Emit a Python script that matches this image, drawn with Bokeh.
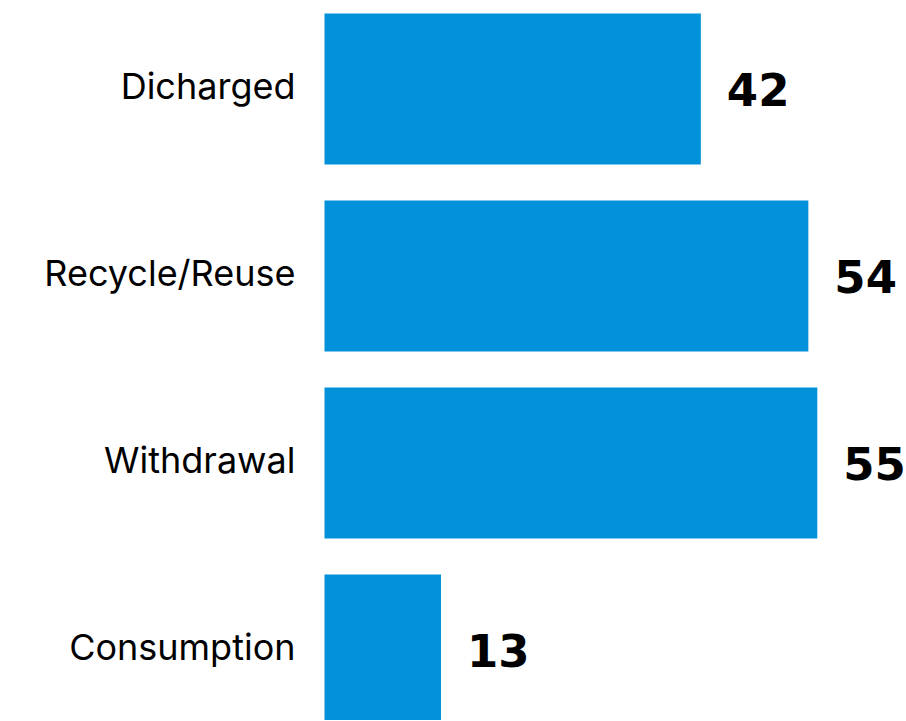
from bokeh.plotting import figure
from bokeh.models import Range1d, ColumnDataSource
from bokeh.core.properties import value
from bokeh.embed import file_html
from bokeh.resources import INLINE

# Data
categories = ["Dicharged", "Recycle/Reuse", "Withdrawal", "Consumption"]
values = [42, 54, 55, 13]
value_labels = ["42", "54", "55", "13"]

BAR_COLOR = "#0091da"
PX_PER_UNIT_X = 8.96
PX_PER_ROW = 187.0

W, H = 905, 720
left_px = 324   # distance from frame left to bar baseline (value 0)
top_px = 88.5   # distance from frame top to first row centre

positions = list(range(len(categories)))

src = ColumnDataSource(dict(
    cat=categories,
    y=positions,
    val=values,
    lab=value_labels,
    zero=[0] * len(values),
))

p = figure(
    width=W, height=H,
    output_backend="svg",
    toolbar_location=None,
    x_range=Range1d(-left_px / PX_PER_UNIT_X, (W - left_px) / PX_PER_UNIT_X),
    y_range=Range1d((H - top_px) / PX_PER_ROW, -top_px / PX_PER_ROW),
    min_border=0,
)
p.axis.visible = False
p.grid.visible = False
p.outline_line_color = None
p.background_fill_color = "white"
p.border_fill_color = "white"

p.hbar(y="y", left="zero", right="val", height=151 / PX_PER_ROW,
       color=BAR_COLOR, line_color=None, source=src)

# Category labels
p.text(x="zero", y="y", text="cat", source=src,
       x_offset=-29, y_offset=-3,
       text_align="right", text_baseline="alphabetic",
       text_font=value("Inter"), text_font_size="36px",
       text_color="black")

# Value labels
p.text(x="val", y="y", text="lab", source=src,
       x_offset=26, y_offset=0,
       text_align="left", text_baseline="alphabetic",
       text_font=value("DejaVu Sans"), text_font_style="bold",
       text_font_size="45px", text_color="black")

open("out.html", "w").write(file_html(p, INLINE))
